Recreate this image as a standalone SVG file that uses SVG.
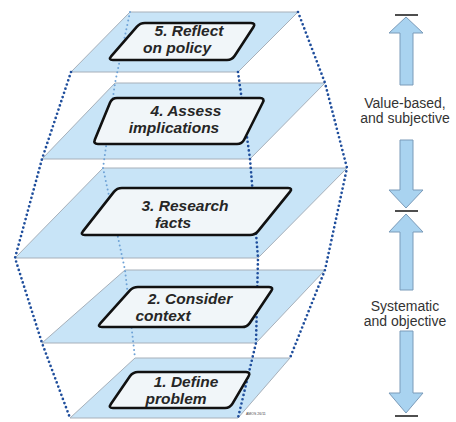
<svg xmlns="http://www.w3.org/2000/svg" width="456" height="422" viewBox="0 0 456 422">
<style>
.plane{fill:#c8e4f7;stroke:#a7b0ba;stroke-width:1}
.box{fill:#f1f6f9;stroke:#111;stroke-width:2.6}
.lbl{font-family:"Liberation Sans",Arial,sans-serif;font-size:15.5px;font-weight:bold;font-style:italic;fill:#262626;text-anchor:middle}
.dot{fill:none;stroke:#1f4e9c;stroke-width:2.7;stroke-linecap:round;stroke-dasharray:0 4.4}
.dotl{fill:none;stroke:#6ea2d6;stroke-width:2;stroke-linecap:round;stroke-dasharray:0 4.4}
.arr{fill:#a9d3f0;stroke:#7b9bb9;stroke-width:1}
.bar{stroke:#222;stroke-width:1.6}
.side{font-family:"Liberation Sans",Arial,sans-serif;font-size:14px;fill:#333;text-anchor:middle}
</style>
<rect width="456" height="422" fill="#fff"/>
<g id="planes">
<polygon class="plane" points="130,12 298,12 238,72 71,72"/>
<polygon class="plane" points="115,83 325,83 250,159 42,159"/>
<polygon class="plane" points="103,168 347,168 258,258 15,258"/>
<polygon class="plane" points="125,270 325,270 256,343 42,343"/>
<polygon class="plane" points="135,358 290,358 238,418 70,418"/>
</g>
<g id="connectors">
<polyline class="dotl" points="130,12 115,83 103,168 125,270 135,358"/>
<polyline class="dot" points="71,72 42,159 15,258 42,343 70,418"/>
<polyline class="dot" points="298,12 325,83 347,168 325,270 290,358"/>
<polyline class="dot" points="238,72 250,159 258,258 256,343 238,418"/>
</g>
<g id="step5">
<path class="box" d="M145,23 L251,23 Q256,23 253.3,27.2 L234.7,55.8 Q232,60 227,60 L113,60 Q108,60 111.3,56.2 L136.7,26.8 Q140,23 145,23 Z"/>
<text class="lbl" x="189" y="36">5. Reflect</text>
<text class="lbl" x="177" y="53">on policy</text>
</g>
<g id="step4">
<path class="box" d="M117,98 L260,98 Q265,98 262.8,102.5 L244.2,139.5 Q242,144 237,144 L98,144 Q93,144 94.9,139.4 L110.1,102.6 Q112,98 117,98 Z"/>
<text class="lbl" x="186" y="116">4. Assess</text>
<text class="lbl" x="174" y="133">implications</text>
</g>
<g id="step3">
<path class="box" d="M122,188 L288,188 Q293,188 289.9,191.9 L258.1,231.1 Q255,235 250,235 L85,235 Q80,235 83.1,231.1 L113.9,191.9 Q117,188 122,188 Z"/>
<text class="lbl" x="185" y="211">3. Research</text>
<text class="lbl" x="173" y="228">facts</text>
</g>
<g id="step2">
<path class="box" d="M138,287 L269,287 Q274,287 271.2,291.1 L249.8,322.9 Q247,327 242,327 L102,327 Q97,327 100.3,323.3 L129.7,290.7 Q133,287 138,287 Z"/>
<text class="lbl" x="190" y="304">2. Consider</text>
<text class="lbl" x="163" y="321">context</text>
</g>
<g id="step1">
<path class="box" d="M138,372 L246,372 Q251,372 248.5,376.3 L232.5,403.7 Q230,408 225,408 L113,408 Q108,408 110.9,403.9 L130.1,376.1 Q133,372 138,372 Z"/>
<text class="lbl" x="186" y="387">1. Define</text>
<text class="lbl" x="176" y="403.5">problem</text>
</g>
<text x="246" y="415" font-family="Liberation Sans,Arial,sans-serif" font-size="3.5" fill="#444">AMOS 26/11</text>
<g id="scale">
<line class="bar" x1="395" y1="15" x2="418" y2="15"/>
<path class="arr" d="M406,17 L423,33 L413,33 L413,85 L400,85 L400,33 L389,33 Z"/>
<text class="side" x="405" y="108">Value-based,</text>
<text class="side" x="405" y="123">and subjective</text>
<path class="arr" d="M400,140 L413,140 L413,190 L423,190 L406,208 L389,190 L400,190 Z"/>
<line class="bar" x1="395" y1="211" x2="418" y2="211"/>
<path class="arr" d="M406,214 L423,232 L413,232 L413,290 L400,290 L400,232 L389,232 Z"/>
<text class="side" x="405" y="311">Systematic</text>
<text class="side" x="405" y="326">and objective</text>
<path class="arr" d="M400,331 L413,331 L413,393 L423,393 L406,413 L389,393 L400,393 Z"/>
<line class="bar" x1="395" y1="416" x2="418" y2="416"/>
</g>
</svg>
